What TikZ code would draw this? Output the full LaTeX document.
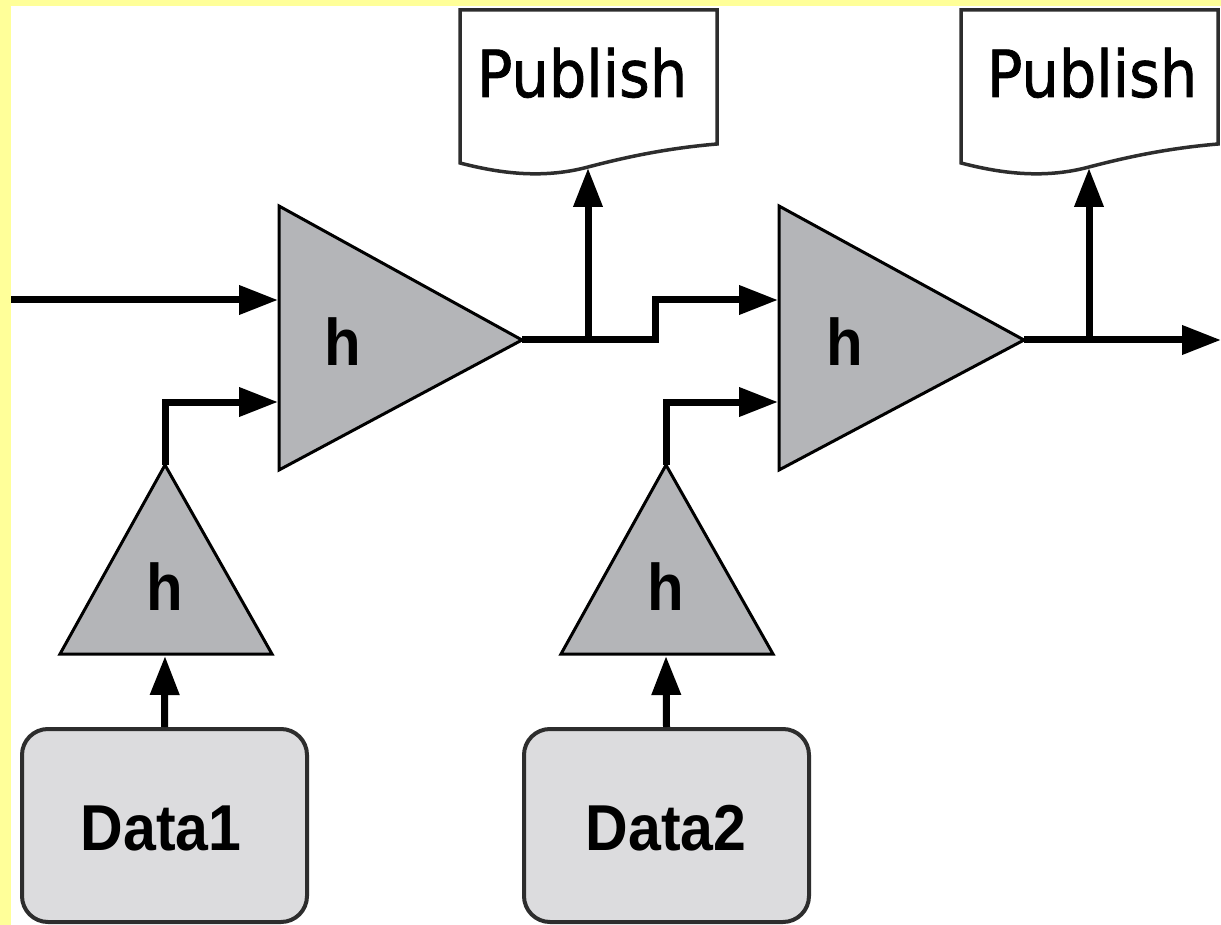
\documentclass[tikz,border=0pt]{standalone}
\usepackage{fontspec}
\setmainfont{Liberation Sans}
\newfontfamily\pubfont[FakeBold=1.3]{DejaVu Sans}
\usetikzlibrary{arrows.meta}
\definecolor{pagebg}{RGB}{255,255,153}
\definecolor{trifill}{RGB}{180,181,184}
\definecolor{boxfill}{RGB}{220,220,222}
\definecolor{edgegray}{RGB}{45,45,45}
\begin{document}
\begin{tikzpicture}[x=1pt,y=-1pt,
  wire/.style={line width=7pt,-{Triangle[length=39pt,width=28pt]}},
  tri/.style={draw=black,line width=3pt,fill=trifill,line join=miter},
  databox/.style={draw=edgegray,line width=4pt,fill=boxfill,rounded corners=26pt,
    minimum width=285pt,minimum height=193pt,inner sep=0pt},
  doc/.style={draw=edgegray,line width=3.5pt,fill=white},
  hlabel/.style={font=\bfseries\fontsize{60}{60}\selectfont,anchor=base,inner sep=0pt},
  datalabel/.style={font=\bfseries\fontsize{59}{59}\selectfont,anchor=base,inner sep=0pt},
  publabel/.style={font=\pubfont\fontsize{59}{59}\selectfont,anchor=base,inner sep=0pt}]

% canvas with its yellow frame
\useasboundingbox (0,0) rectangle (1221,925);
\fill[pagebg] (0,0) rectangle (1221,925);
\fill[white] (11,6) rectangle (1221,925);

% publish documents
\draw[doc] (460,10) -- (717,10) -- (717,144)
  .. controls (670,148) and (630,156) .. (588,167)
  .. controls (540,180) and (495,172) .. (460,163) -- cycle;
\node[publabel] (pub1) at (582,97) {\scalebox{1}[1.1]{Publish}};
\coordinate (pub1in) at (588,168);

\draw[doc] (961,10) -- (1218,10) -- (1218,144)
  .. controls (1171,148) and (1131,156) .. (1089,167)
  .. controls (1041,180) and (996,172) .. (961,163) -- cycle;
\node[publabel] (pub2) at (1092,97) {\scalebox{1}[1.1]{Publish}};
\coordinate (pub2in) at (1089,168);

% combining stages
\draw[tri] (279,206) -- (522,340) coordinate (big1out) -- (279,470) -- cycle;
\node[hlabel] (big1) at (343,365) {\scalebox{1}[1.1]{h}};
\coordinate (big1inA) at (278,300);
\coordinate (big1inB) at (278,402);

\draw[tri] (779,206) -- (1024,340) coordinate (big2out) -- (779,470) -- cycle;
\node[hlabel] (big2) at (845,365) {\scalebox{1}[1.1]{h}};
\coordinate (big2inA) at (778,300);
\coordinate (big2inB) at (778,402);

% hashing stages
\draw[tri] (60,654) -- (165,465) coordinate (sm1top) -- (272,654) -- cycle;
\node[hlabel] (sm1) at (165,610) {\scalebox{1}[1.1]{h}};
\coordinate (sm1in) at (165,656);

\draw[tri] (561,654) -- (666,465) coordinate (sm2top) -- (773,654) -- cycle;
\node[hlabel] (sm2) at (666,610) {\scalebox{1}[1.1]{h}};
\coordinate (sm2in) at (666,656);

% data blocks
\node[databox] (d1) at (164.5,825.5) {};
\node[datalabel] (d1t) at (161,850) {\scalebox{1}[1.1]{Data1}};
\node[databox] (d2) at (666.5,825.5) {};
\node[datalabel] (d2t) at (666,850) {\scalebox{1}[1.1]{Data2}};

% connections
\coordinate (start) at (11,300);
\coordinate (jog) at (655,340);
\coordinate (tap1) at (588,340);
\coordinate (tap2) at (1089,340);
\coordinate (finish) at (1221,340);

\draw[wire] (start) -- (big1inA);
\draw[wire] (sm1top) |- (big1inB);
\draw[wire] (d1.north) -- (sm1in);
\draw[wire] (big1out) -- (jog) |- (big2inA);
\draw[wire] (tap1) -- (pub1in);
\draw[wire] (sm2top) |- (big2inB);
\draw[wire] (d2.north) -- (sm2in);
\draw[wire] (big2out) -- (finish);
\draw[wire] (tap2) -- (pub2in);
\end{tikzpicture}
\end{document}
